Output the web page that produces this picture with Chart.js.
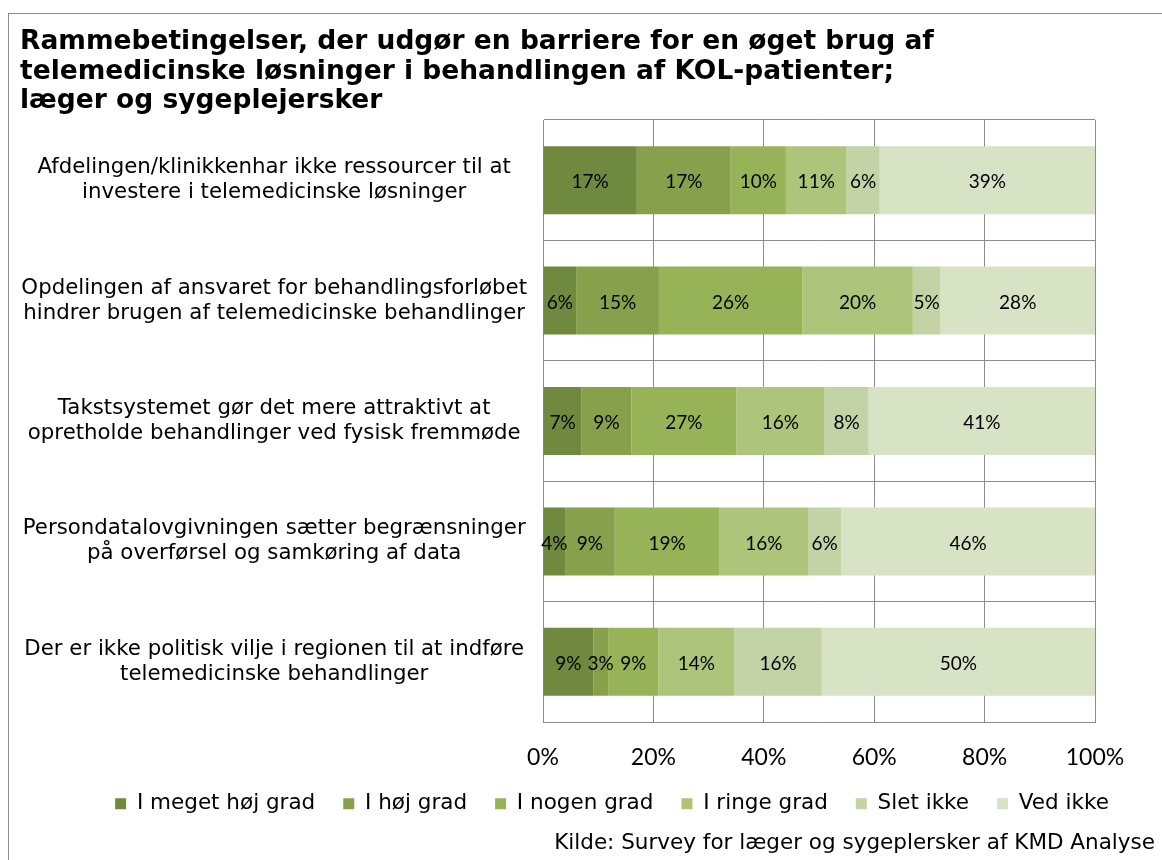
<!DOCTYPE html>
<html>
<head>
<meta charset="utf-8">
<script src="https://cdn.jsdelivr.net/npm/chart.js@4.4.1/dist/chart.umd.min.js"></script>
<style>
  body { margin: 0; background: #fff; }
  #frame { position: absolute; left: 8px; top: 13px; width: 1200px; height: 900px; border: 1px solid #8c8c8c; }
  #chart { position: absolute; left: 0; top: 0; }
</style>
</head>
<body>
<div id="frame"></div>
<canvas id="chart" width="1162" height="860"></canvas>
<script>
// Title and source
const titleLines = [
  "Rammebetingelser, der udgør en barriere for en øget brug af",
  "telemedicinske løsninger i behandlingen af KOL-patienter;",
  "læger og sygeplejersker"
];
const sourceText = "Kilde: Survey for læger og sygeplersker af KMD Analyse";

const categories = [
  ["Afdelingen/klinikkenhar ikke ressourcer til at", "investere i telemedicinske løsninger"],
  ["Opdelingen af ansvaret for behandlingsforløbet", "hindrer brugen af telemedicinske behandlinger"],
  ["Takstsystemet gør det mere attraktivt at", "opretholde behandlinger ved fysisk fremmøde"],
  ["Persondatalovgivningen sætter begrænsninger", "på overførsel og samkøring af data"],
  ["Der er ikke politisk vilje i regionen til at indføre", "telemedicinske behandlinger"]
];

const seriesNames = ["I meget høj grad", "I høj grad", "I nogen grad", "I ringe grad", "Slet ikke", "Ved ikke"];
const seriesColors = ["#6f8a3e", "#86a04c", "#97b357", "#adc57a", "#c3d3a5", "#d8e2c4"];

// bar widths (percent)
const megetHoej = [17, 6, 7, 4, 9.1];
const hoej      = [17, 15, 9, 9, 2.7];
const nogen     = [10, 26, 19, 19, 9.1];
const ringe     = [11, 20, 16, 16, 13.8];
const slet      = [6, 5, 8, 6, 15.8];
const vedIkke   = [39, 28, 41, 46, 49.5];
const seriesValues = [megetHoej, hoej, nogen, ringe, slet, vedIkke];

// printed label for "I nogen grad" in row 3 differs from the bar width
const nogenPrinted = [10, 26, 27, 19, 9];

const xTicks = [0, 20, 40, 60, 80, 100];

const gridColor = "#8c8c8c";

const textPlugin = {
  id: "texts",
  afterLayout(chart) {
    // legend in the original sits a bit right of the page centre
    chart.legend.left = 62;
    chart.legend.right = 1162;
  },
  afterDraw(chart) {
    const ctx = chart.ctx;
    ctx.save();
    ctx.fillStyle = "#000";
    ctx.textBaseline = "alphabetic";
    ctx.font = "bold 26.5px 'DejaVu Sans'";
    ctx.textAlign = "left";
    titleLines.forEach((t, i) => ctx.fillText(t, 20, 49 + i * 29.5));
    ctx.font = "21.5px 'DejaVu Sans'";
    ctx.textAlign = "right";
    ctx.fillText(sourceText, 1155, 849);
    ctx.restore();
  }
};

const barLabels = {
  id: "barLabels",
  afterDatasetsDraw(chart) {
    const ctx = chart.ctx;
    ctx.save();
    ctx.font = "19px Lato";
    ctx.fillStyle = "#000";
    ctx.textAlign = "center";
    ctx.textBaseline = "middle";
    chart.data.datasets.forEach((ds, i) => {
      chart.getDatasetMeta(i).data.forEach((bar, j) => {
        const p = bar.getProps(["x", "base", "y"], true);
        const v = i === 2 ? nogenPrinted[j] : Math.round(ds.data[j]);
        ctx.fillText(v + "%", (p.x + p.base) / 2, p.y + 2);
      });
    });
    ctx.restore();
  }
};

new Chart(document.getElementById("chart"), {
  type: "bar",
  data: {
    labels: categories,
    datasets: seriesNames.map((name, i) => ({
      label: name,
      data: seriesValues[i],
      backgroundColor: seriesColors[i],
      borderWidth: 0,
      barPercentage: 0.565,
      categoryPercentage: 1
    }))
  },
  options: {
    indexAxis: "y",
    responsive: false,
    animation: false,
    layout: { padding: { left: 0, top: 120, right: 67, bottom: 35.5 } },
    scales: {
      x: {
        stacked: true,
        min: 0,
        max: 100,
        afterBuildTicks: (s) => { s.ticks = xTicks.map(v => ({ value: v })); },
        afterFit: (s) => { s.height = 43; },
        ticks: {
          callback: (v) => v + "%",
          color: "#000",
          font: { family: "Lato", size: 23 },
          padding: 22
        },
        grid: { color: gridColor, drawTicks: false },
        border: { color: gridColor }
      },
      y: {
        stacked: true,
        afterFit: (s) => { s.width = 543; },
        ticks: {
          color: "#000",
          font: { family: "'DejaVu Sans'", size: 21.3, lineHeight: 25 / 21.3 },
          crossAlign: "center",
          padding: 16
        },
        grid: { color: gridColor, drawTicks: false },
        border: { color: gridColor }
      }
    },
    plugins: {
      legend: {
        position: "bottom",
        labels: {
          color: "#000",
          font: { family: "'DejaVu Sans'", size: 21.5 },
          boxWidth: 11,
          boxHeight: 11,
          padding: 28
        }
      },
      tooltip: { enabled: false }
    }
  },
  plugins: [barLabels, textPlugin]
});
</script>
</body>
</html>
